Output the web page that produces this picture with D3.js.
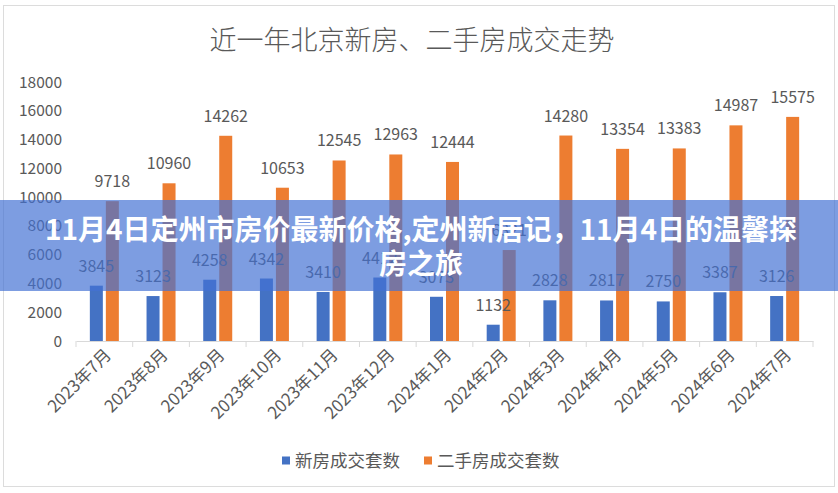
<!DOCTYPE html>
<html><head><meta charset="utf-8">
<script src="https://cdn.jsdelivr.net/npm/d3@7"></script>
<style>
html,body{margin:0;padding:0;background:#fff;}
svg{display:block;}
text{font-family:"Noto Sans CJK SC","Noto Sans",sans-serif;}
</style></head>
<body>
<svg id="c" width="838" height="493"></svg>
<script>
const title = "近一年北京新房、二手房成交走势";
const categories = ["2023年7月","2023年8月","2023年9月","2023年10月","2023年11月","2023年12月","2024年1月","2024年2月","2024年3月","2024年4月","2024年5月","2024年6月","2024年7月"];
const seriesNames = ["新房成交套数","二手房成交套数"];
const newHomes = [3845,3123,4258,4342,3410,4412,3073,1132,2828,2817,2750,3387,3126];
const resale = [9718,10960,14262,10653,12545,12963,12444,6321,14280,13354,13383,14987,15575];
const yTicks = [0,2000,4000,6000,8000,10000,12000,14000,16000,18000];
const bannerLines = ["11月4日定州市房价最新价格,定州新居记，11月4日的温馨探","房之旅"];
const colors = ["#4472C4","#ED7D31"];

const svg = d3.select("#c");
svg.append("rect").attr("x",3.5).attr("y",5.5).attr("width",831).attr("height",481)
  .attr("fill","#fff").attr("stroke","#dcdcdc");

svg.append("text").attr("x",412).attr("y",50).attr("text-anchor","middle")
  .attr("font-size",27).attr("font-weight",300).attr("fill","#595959").text(title);

const x = d3.scaleBand().domain(categories).range([76,813]);
const y = d3.scaleLinear().domain([0,18000]).range([341,82]);
const barW = 13, gap = 3;

// y axis labels
svg.append("g").selectAll("text").data(yTicks).join("text")
  .attr("x",62).attr("y",d=>y(d)+5.5).attr("text-anchor","end")
  .attr("font-size",15.5).attr("fill","#595959").text(d=>d);

// x axis
const xAxis = d3.axisBottom(x).tickSize(0).tickFormat("");
const gx = svg.append("g").attr("transform","translate(0,341)").call(xAxis);
gx.select(".domain").attr("stroke","#d9d9d9");
const bounds = categories.map(c=>x(c)).concat([x.range()[1]]);
gx.selectAll(".tk").data(bounds).join("line").attr("class","tk")
  .attr("x1",d=>d).attr("x2",d=>d).attr("y1",0).attr("y2",6).attr("stroke","#d9d9d9");

svg.append("g").selectAll("text").data(categories).join("text")
  .attr("transform",d=>`translate(${x(d)+x.bandwidth()/2+8},${356}) rotate(-45)`)
  .attr("text-anchor","end").attr("font-size",17).attr("fill","#595959").text(d=>d);

const series = [newHomes, resale];
const barsG = svg.append("g");
const labelsG = svg.append("g");
series.forEach((vals,si)=>{
  const off = si===0 ? -gap/2-barW : gap/2;
  barsG.append("g").selectAll("rect").data(vals).join("rect")
    .attr("x",(d,i)=>x(categories[i])+x.bandwidth()/2+off)
    .attr("y",d=>y(d)).attr("width",barW).attr("height",d=>y(0)-y(d))
    .attr("fill",colors[si]);
  labelsG.append("g").selectAll("text").data(vals).join("text")
    .attr("x",(d,i)=>x(categories[i])+x.bandwidth()/2+off+barW/2)
    .attr("y",d=>y(d)-14).attr("text-anchor","middle")
    .attr("font-size",16).attr("fill","#595959").text(d=>d);
});

// legend
const leg = svg.append("g");
const legItems = [{x:282,tx:295},{x:424,tx:437}];
seriesNames.forEach((n,i)=>{
  leg.append("rect").attr("x",legItems[i].x).attr("y",456.5).attr("width",8).attr("height",8).attr("fill",colors[i]);
  leg.append("text").attr("x",legItems[i].tx).attr("y",466.5).attr("font-size",17.5).attr("fill","#595959").text(n);
});

// overlay banner
svg.append("rect").attr("x",0).attr("y",200).attr("width",838).attr("height",91)
  .attr("fill","rgb(67,113,211)").attr("fill-opacity",0.69);
svg.append("g").selectAll("text").data(bannerLines).join("text")
  .attr("x",421).attr("y",(d,i)=>240+i*34).attr("text-anchor","middle")
  .attr("font-size",28).attr("font-weight","bold").attr("fill","#fff").text(d=>d);
</script>
</body></html>
